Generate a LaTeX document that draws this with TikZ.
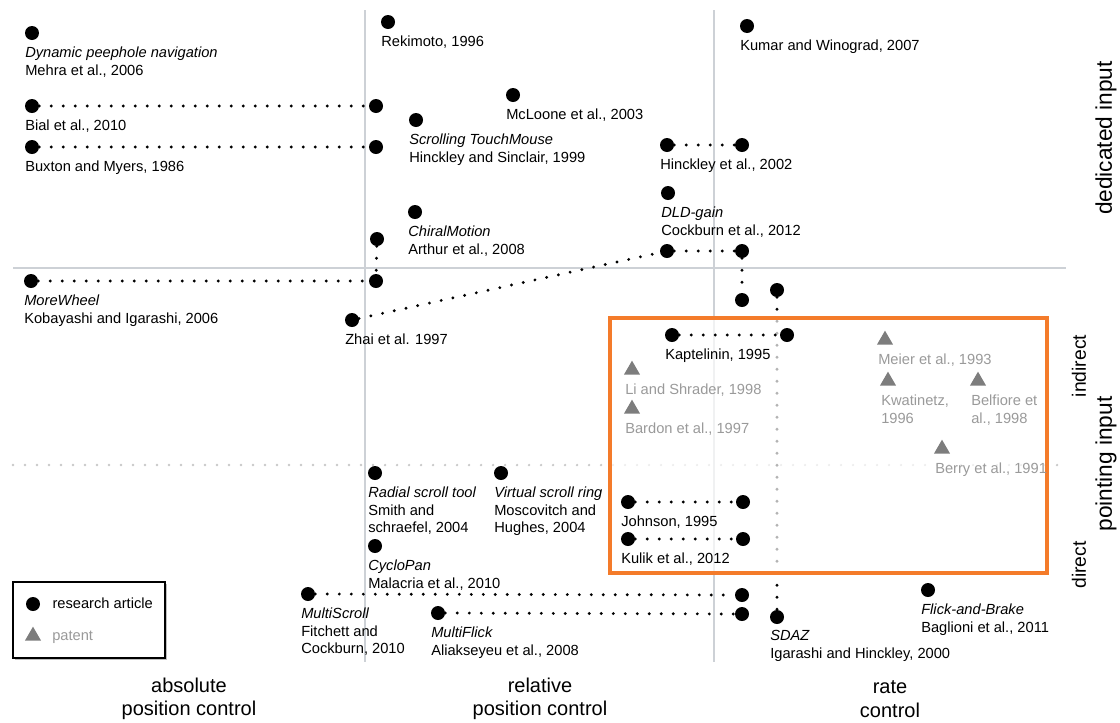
\documentclass[tikz,border=0pt]{standalone}
\usepackage{fontspec}
\setmainfont{Liberation Sans}
\usetikzlibrary{positioning, shapes.geometric, shadows}

\definecolor{gridgray}{HTML}{CDD1D6}
\definecolor{dotgray}{HTML}{C8C8C8}
\definecolor{patgray}{HTML}{7D7D7D}
\definecolor{pattext}{HTML}{9A9A9A}
\definecolor{boxorange}{HTML}{F47B2A}

\begin{document}
\begin{tikzpicture}[
    x=0.75pt, y=-0.75pt,
    node_art/.style={circle, fill=black, inner sep=0pt, minimum size=10.5pt},
    node_pat/.style={regular polygon, regular polygon sides=3, fill=patgray, inner sep=0pt, minimum size=14pt},
    node_lab/.style={font=\fontsize{11}{13.4}\selectfont, align=left, inner sep=0pt},
    pat_lab/.style={node_lab, text=pattext},
    leg_lab/.style={font=\fontsize{11}{13.4}\selectfont, inner sep=0pt, text height=1.5ex, text depth=0.25ex},
    edge_link/.style={line width=2.4pt, dash pattern=on 0pt off 9pt, line cap=round},
    grid_line/.style={gridgray, line width=1.6pt},
    grid_dots/.style={dotgray, line width=1.9pt, dash pattern=on 0pt off 9pt, line cap=round},
    focus_box/.style={draw=boxorange, line width=3pt, fill=white, fill opacity=0.7},
    legend_box/.style={draw=black, line width=1pt, fill=white, minimum width=114pt, minimum height=57pt,
      drop shadow={shadow xshift=1.5pt, shadow yshift=-1.5pt, opacity=0.5}},
    axis_lab/.style={font=\fontsize{15}{17.5}\selectfont, align=center, inner sep=0pt},
    side_lab/.style={font=\fontsize{17}{20}\selectfont, rotate=90, inner sep=0pt},
    sub_lab/.style={font=\fontsize{14.5}{17}\selectfont, rotate=90, inner sep=0pt},
    node distance=10pt and -5.25pt
  ]
    \useasboundingbox (0,0) rectangle (1120,722);

    % grid
    \draw[grid_line] (365,10) -- (365,662);
    \draw[grid_line] (714,10) -- (714,662);
    \draw[grid_line] (13,268) -- (1066,268);
    \draw[grid_dots] (13,465) -- (1065,465);

    % SDAZ runs behind the box
    \node[node_art] (sdaz_t) at (777,290) {};
    \node[node_art] (sdaz) at (777,617) {};
    \node[node_lab, below right=of sdaz.center] (sdaz_l) {\textit{SDAZ}\\Igarashi and Hinckley, 2000};
    \draw[edge_link] (sdaz_t) to (sdaz);

    \draw[focus_box] (610,318) rectangle (1047,573);

    % dedicated input
    \node[node_art] (mehra) at (32,33) {};
    \node[node_lab, below right=of mehra.center] (mehra_l) {\textit{Dynamic peephole navigation}\\Mehra et al., 2006};
    \node[node_art] (rekimoto) at (388,22) {};
    \node[node_lab, below right=of rekimoto.center] (rekimoto_l) {Rekimoto, 1996};
    \node[node_art] (kumar) at (747,26) {};
    \node[node_lab, below right=of kumar.center] (kumar_l) {Kumar and Winograd, 2007};

    \node[node_art] (bial) at (32,106) {};
    \node[node_art] (bial_r) at (376,106) {};
    \node[node_lab, below right=of bial.center] (bial_l) {Bial et al., 2010};
    \node[node_art] (buxton) at (32,147) {};
    \node[node_art] (buxton_r) at (376,147) {};
    \node[node_lab, below right=of buxton.center] (buxton_l) {Buxton and Myers, 1986};

    \node[node_art] (mcloone) at (513,95) {};
    \node[node_lab, below right=of mcloone.center] (mcloone_l) {McLoone et al., 2003};
    \node[node_art] (touch) at (416,120) {};
    \node[node_lab, below right=of touch.center] (touch_l) {\textit{Scrolling TouchMouse}\\Hinckley and Sinclair, 1999};

    \node[node_art] (hinckley) at (667,145) {};
    \node[node_art] (hinckley_r) at (742,145) {};
    \node[node_lab, below right=of hinckley.center] (hinckley_l) {Hinckley et al., 2002};
    \node[node_art] (dld) at (668,193) {};
    \node[node_lab, below right=of dld.center] (dld_l) {\textit{DLD-gain}\\Cockburn et al., 2012};

    \node[node_art] (chiral) at (415,212) {};
    \node[node_lab, below right=of chiral.center] (chiral_l) {\textit{ChiralMotion}\\Arthur et al., 2008};

    \node[node_art] (more_t) at (377,239) {};
    \node[node_art] (more) at (31,281) {};
    \node[node_art] (more_r) at (376,281) {};
    \node[node_lab, below right=of more.center] (more_l) {\textit{MoreWheel}\\Kobayashi and Igarashi, 2006};

    \node[node_art] (zhai) at (352,320) {};
    \node[node_art] (zhai_a) at (667,251) {};
    \node[node_art] (zhai_b) at (742,251) {};
    \node[node_art] (zhai_c) at (742,300) {};
    \node[node_lab, below right=of zhai.center] (zhai_l) {Zhai et al. 1997};

    \draw[edge_link] (bial) to (bial_r);
    \draw[edge_link] (buxton) to (buxton_r);
    \draw[edge_link] (hinckley) to (hinckley_r);
    \draw[edge_link] (more) to (more_r);
    \draw[edge_link] (more_t) to (more_r);
    \draw[edge_link] (zhai) to (zhai_a);
    \draw[edge_link] (zhai_a) to (zhai_b);
    \draw[edge_link] (zhai_b) to (zhai_c);

    % pointing input, indirect
    \node[node_art] (kapt) at (672,335) {};
    \node[node_art] (kapt_r) at (787,335) {};
    \node[node_lab, below right=of kapt.center] (kapt_l) {Kaptelinin, 1995};
    \draw[edge_link] (kapt) to (kapt_r);

    \node[node_pat] (li) at (632,370) {};
    \node[pat_lab, below right=of li.center] (li_l) {Li and Shrader, 1998};
    \node[node_pat] (bardon) at (632,409) {};
    \node[pat_lab, below right=of bardon.center] (bardon_l) {Bardon et al., 1997};
    \node[node_pat] (meier) at (885,340) {};
    \node[pat_lab, below right=of meier.center] (meier_l) {Meier et al., 1993};
    \node[node_pat] (kwat) at (888,381) {};
    \node[pat_lab, below right=of kwat.center] (kwat_l) {Kwatinetz,\\1996};
    \node[node_pat] (belf) at (978,381) {};
    \node[pat_lab, below right=of belf.center] (belf_l) {Belfiore et\\al., 1998};
    \node[node_pat] (berry) at (942,449) {};
    \node[pat_lab, below right=of berry.center] (berry_l) {Berry et al., 1991};

    % pointing input, direct
    \node[node_art] (radial) at (375,473) {};
    \node[node_lab, below right=of radial.center] (radial_l) {\textit{Radial scroll tool}\\Smith and\\schraefel, 2004};
    \node[node_art] (vring) at (501,473) {};
    \node[node_lab, below right=of vring.center] (vring_l) {\textit{Virtual scroll ring}\\Moscovitch and\\Hughes, 2004};
    \node[node_art] (cyclo) at (375,546) {};
    \node[node_lab, below right=of cyclo.center] (cyclo_l) {\textit{CycloPan}\\Malacria et al., 2010};

    \node[node_art] (john) at (628,502) {};
    \node[node_art] (john_r) at (743,502) {};
    \node[node_lab, below right=of john.center] (john_l) {Johnson, 1995};
    \node[node_art] (kulik) at (628,539) {};
    \node[node_art] (kulik_r) at (743,539) {};
    \node[node_lab, below right=of kulik.center] (kulik_l) {Kulik et al., 2012};

    \node[node_art] (mscroll) at (308,594) {};
    \node[node_art] (mscroll_r) at (742,595) {};
    \node[node_lab, below right=of mscroll.center] (mscroll_l) {\textit{MultiScroll}\\Fitchett and\\Cockburn, 2010};
    \node[node_art] (mflick) at (438,613) {};
    \node[node_art] (mflick_r) at (742,614) {};
    \node[node_lab, below right=of mflick.center] (mflick_l) {\textit{MultiFlick}\\Aliakseyeu et al., 2008};
    \node[node_art] (flick) at (928,590) {};
    \node[node_lab, below right=of flick.center] (flick_l) {\textit{Flick-and-Brake}\\Baglioni et al., 2011};

    \draw[edge_link] (john) to (john_r);
    \draw[edge_link] (kulik) to (kulik_r);
    \draw[edge_link] (mscroll) to (mscroll_r);
    \draw[edge_link] (mflick) to (mflick_r);

    % legend
    \node[legend_box] (legend) at (89,620) {};
    \node[node_art] (leg_art) at (33,604) {};
    \node[leg_lab, right=9pt of leg_art] (leg_art_l) {research article};
    \node[node_pat] (leg_pat) at (33,636) {};
    \node[leg_lab, text=pattext, right=10pt of leg_pat] (leg_pat_l) {patent};

    % axes
    \node[axis_lab] (abs_pos) at (189,699) {absolute\\position control};
    \node[axis_lab] (rel_pos) at (540,699) {relative\\position control};
    \node[axis_lab] (rate) at (890,699) {rate\\control};
    \node[side_lab] (dedicated) at (1106,138) {dedicated input};
    \node[side_lab] (pointing) at (1106,464) {pointing input};
    \node[sub_lab] (indirect) at (1079,366) {indirect};
    \node[sub_lab] (direct) at (1079,565) {direct};
  \end{tikzpicture}
\end{document}
